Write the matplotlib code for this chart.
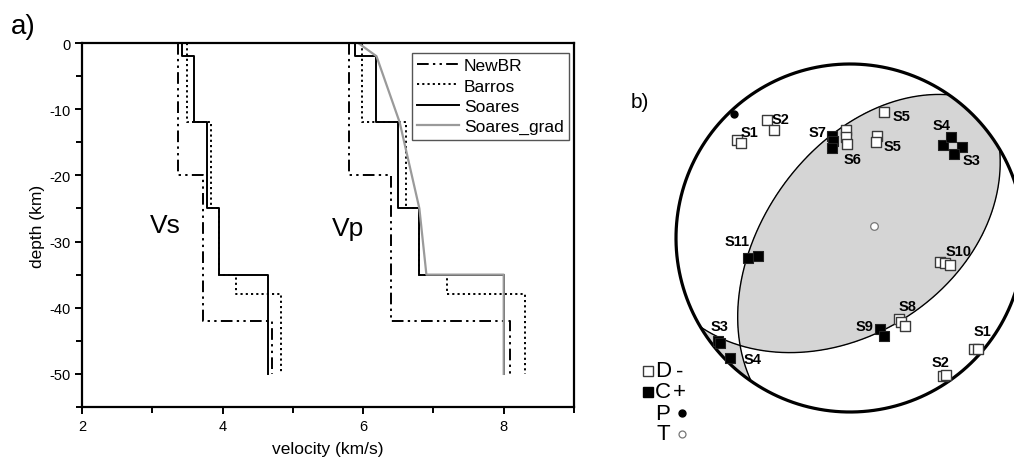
import numpy as np
import matplotlib
matplotlib.use('Agg')
import matplotlib.pyplot as plt
from matplotlib.ticker import MultipleLocator

plt.rcParams['font.family'] = ['Liberation Sans', 'DejaVu Sans']
plt.rcParams['axes.unicode_minus'] = False

# --- a) velocity models: layer tops (km), bottom of model, velocities (km/s)
newbr_top = [0, 20, 42]
newbr_vp = [5.80, 6.40, 8.09]
newbr_vs = [3.37, 3.72, 4.71]

barros_top = [0, 12, 25, 35, 38]
barros_vp = [5.99, 6.61, 6.80, 7.19, 8.30]
barros_vs = [3.49, 3.83, 3.95, 4.19, 4.83]

soares_top = [0, 2, 12, 25, 35]
soares_vp = [5.88, 6.19, 6.50, 6.80, 8.00]
soares_vs = [3.42, 3.60, 3.78, 3.95, 4.65]

grad_depth = [0, 2, 12, 25, 35, 35, 50]
grad_vp = [5.93, 6.19, 6.52, 6.80, 6.90, 8.00, 8.00]

model_bottom = 50

# --- b) focal mechanism: nodal planes (strike, dip), P/T axes (trend, plunge)
plane_strike = [214.6, 59.3]
plane_dip = [49.6, 43.6]
p_axis = (317, 3)
t_axis = (63, 77.5)

# station polarities: azimuth and take-off angle (deg)
dil_az = [311, 311, 325, 325, 358, 358, 358, 15, 15, 15,
          105, 105, 105, 149, 149, 148, 132, 131, 146, 145]
dil_toa = [75, 72, 72, 65, 52, 48.5, 45, 64, 51, 47.5,
           44.5, 47, 50, 45, 47, 50, 85, 87, 85, 86]
comp_az = [350, 350, 349, 45, 45, 51, 51, 259, 259, 162, 161, 232, 231, 225]
comp_toa = [50, 47, 44, 65, 71, 72, 66, 50, 45, 46, 50, 86, 85.5, 87]

station_lab = ['S1', 'S2', 'S7', 'S6', 'S5', 'S5', 'S4', 'S3',
               'S11', 'S10', 'S8', 'S9', 'S1', 'S2', 'S3', 'S4']
lab_x = [-0.575, -0.397, -0.184, 0.017, 0.299, 0.247, 0.529, 0.701,
         -0.649, 0.626, 0.328, 0.086, 0.764, 0.523, -0.747, -0.557]
lab_y = [0.609, 0.684, 0.609, 0.454, 0.701, 0.529, 0.649, 0.448,
         -0.017, -0.075, -0.391, -0.506, -0.534, -0.713, -0.506, -0.695]


def steps(tops, vel, bottom):
    bounds = list(tops[1:]) + [bottom]
    x, y = [], []
    for t, b, v in zip(tops, bounds, vel):
        x += [v, v]
        y += [-t, -b]
    return x, y


def project(trend, plunge):
    # lower hemisphere, equal-area (Schmidt)
    tr = np.radians(trend)
    r = np.sqrt(2) * np.sin(np.radians(90 - np.asarray(plunge)) / 2)
    return r * np.sin(tr), r * np.cos(tr)


def vec(trend, plunge):
    tr, pl = np.radians(trend), np.radians(plunge)
    return np.array([np.cos(pl) * np.cos(tr), np.cos(pl) * np.sin(tr), np.sin(pl)])


fig = plt.figure(figsize=(10.14, 4.64), dpi=100)

# ---------------- panel a
ax = fig.add_axes([82 / 1014, 56 / 464, 492 / 1014, 364 / 464])
dashdotdot = (0, (6, 2.2, 1.2, 2.2, 1.2, 2.2))
dotted = (0, (1.1, 1.6))
for tops, vp, vs, ls, c, lab in [
        (newbr_top, newbr_vp, newbr_vs, dashdotdot, 'k', 'NewBR'),
        (barros_top, barros_vp, barros_vs, dotted, 'k', 'Barros'),
        (soares_top, soares_vp, soares_vs, '-', 'k', 'Soares')]:
    x, y = steps(tops, vs, model_bottom)
    ax.plot(x, y, ls=ls, color=c, lw=1.4)
    x, y = steps(tops, vp, model_bottom)
    ax.plot(x, y, ls=ls, color=c, lw=1.4, label=lab)
ax.plot(grad_vp, [-d for d in grad_depth], color='#9a9a9a', lw=1.6, label='Soares_grad')

ax.set_xlim(2, 9)
ax.set_ylim(-55, 0)
ax.xaxis.set_major_locator(MultipleLocator(2))
ax.xaxis.set_minor_locator(MultipleLocator(1))
ax.yaxis.set_major_locator(MultipleLocator(10))
ax.yaxis.set_minor_locator(MultipleLocator(5))
ax.tick_params(which='both', direction='out', width=1.4, labelsize=10.5)
ax.tick_params(which='major', length=5)
ax.tick_params(which='minor', length=4)
for s in ax.spines.values():
    s.set_linewidth(1.6)
ax.set_xlabel('velocity (km/s)', fontsize=12.5, labelpad=6)
ax.set_ylabel('depth (km)', fontsize=12.5, labelpad=3)
ax.text(3.18, -27.5, 'Vs', fontsize=19, ha='center', va='center')
ax.text(5.78, -28.0, 'Vp', fontsize=19, ha='center', va='center')
leg = ax.legend(loc='upper right', bbox_to_anchor=(0.99, 0.973), borderaxespad=0,
                fontsize=12.5, handlelength=2.4, handletextpad=0.3, labelspacing=0.3,
                borderpad=0.3, fancybox=False, framealpha=1, edgecolor='#555555')
leg.get_frame().set_linewidth(1.0)
fig.text(23 / 1014, 1 - 27 / 464, 'a)', fontsize=20, ha='center', va='center')

# ---------------- panel b
bx = fig.add_axes([600 / 1014, 0, 414 / 1014, 1])
bx.set_xlim(-250 / 174, 164 / 174)
bx.set_ylim(-225 / 174, 239 / 174)
bx.axis('off')

# compressional quadrants shaded
gx, gy = np.meshgrid(np.linspace(-1, 1, 901), np.linspace(-1, 1, 901))
gr = np.hypot(gx, gy)
inside = gr <= 1.0
gpl = 90 - 2 * np.degrees(np.arcsin(np.clip(gr, 0, 1) / np.sqrt(2)))
gtr = np.degrees(np.arctan2(gx, gy))
v = vec(gtr, gpl)
na = vec(plane_strike[0] - 90, 90 - plane_dip[0])
nb = vec(plane_strike[1] - 90, 90 - plane_dip[1])
pol = np.tensordot(na, v, 1) * np.tensordot(nb, v, 1)
tv = vec(*t_axis)
pol *= np.sign((na @ tv) * (nb @ tv))
pol = np.ma.masked_where(~inside, pol)
bx.contourf(gx, gy, pol, levels=[0, 10], colors=['#d5d5d5'])

t = np.linspace(0, 180, 400)
for s, d in zip(plane_strike, plane_dip):
    sr, dr, trad = np.radians(s), np.radians(d), np.radians(t)
    pl = np.degrees(np.arcsin(np.sin(dr) * np.sin(trad)))
    tr = s + np.degrees(np.arctan2(np.cos(dr) * np.sin(trad), np.cos(trad)))
    px, py = project(tr, pl)
    bx.plot(px, py, color='k', lw=1.0)

th = np.linspace(0, 2 * np.pi, 400)
bx.plot(np.cos(th), np.sin(th), color='k', lw=2.3)

dx, dy = project(np.array(dil_az), 90 - np.array(dil_toa))
bx.scatter(dx, dy, marker='s', s=52, facecolor='white', edgecolor='#3a3a3a', lw=1.0, zorder=4)
cx, cy = project(np.array(comp_az), 90 - np.array(comp_toa))
bx.scatter(cx, cy, marker='s', s=52, facecolor='black', edgecolor='#222222', lw=0.8, zorder=5)

ppx, ppy = project(*p_axis)
bx.plot(ppx, ppy, 'o', ms=5, color='k', zorder=6)
tpx, tpy = project(*t_axis)
bx.plot(tpx, tpy, 'o', ms=5.5, mfc='white', mec='#777777', mew=0.9, zorder=6)

for lab, x, y in zip(station_lab, lab_x, lab_y):
    bx.text(x, y, lab, fontsize=10.5, fontweight='bold', ha='center', va='center', zorder=7)

bx.text(-1.207, 0.787, 'b)', fontsize=15, ha='center', va='center')

# symbol key
ky = [-0.764, -0.885, -1.006, -1.126]
bx.plot(-1.161, ky[0], 's', ms=6.5, mfc='white', mec='#3a3a3a', mew=1.0)
bx.plot(-1.161, ky[1], 's', ms=6.5, mfc='black', mec='black')
for y, letter in zip(ky, ['D', 'C', 'P', 'T']):
    bx.text(-1.075, y, letter, fontsize=16, ha='center', va='center')
bx.text(-0.978, ky[0], '-', fontsize=16, ha='center', va='center')
bx.text(-0.978, ky[1], '+', fontsize=16, ha='center', va='center')
bx.plot(-0.966, ky[2], 'o', ms=5, color='k')
bx.plot(-0.966, ky[3], 'o', ms=5, mfc='white', mec='#777777', mew=0.9)

fig.savefig('out.png', dpi=100)
